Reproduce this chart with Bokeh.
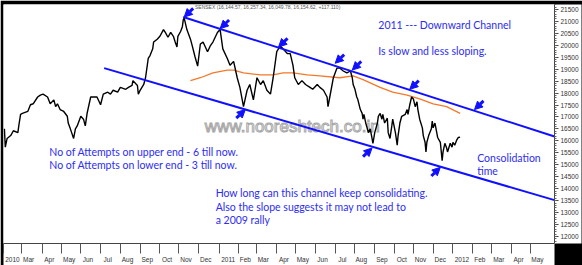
import numpy as np
import pandas as pd
from bokeh.plotting import figure
from bokeh.models import (Range1d, FixedTicker, SingleIntervalTicker, LinearAxis,
                          Arrow, NormalHead, ColumnDataSource, Label)
from bokeh.embed import file_html
from bokeh.resources import INLINE

# ---------------- data (x = trading sessions counted from 1 Feb 2010) ----------------
price_session = [1, 2, 4, 8, 11, 16, 17, 19, 21, 27, 30, 33, 38, 41, 44, 49, 52, 56, 58, 60,
                 63, 67, 71, 72, 74, 78, 80, 82, 86, 89, 91, 93, 97, 99, 104, 108, 111, 116, 119, 122,
                 127, 130, 136, 139, 143, 144, 149, 150, 152, 156, 158, 160, 161, 163, 166, 167, 171, 174, 178, 180,
                 183, 186, 189, 191, 193, 194, 197, 199, 200, 201, 202, 204, 208, 210, 213, 216, 219, 222, 227, 230,
                 233, 238, 241, 244, 249, 252, 256, 260, 263, 267, 271, 274, 278, 282, 286, 289, 293, 297, 300, 304,
                 308, 311, 316, 319, 322, 324, 328, 332, 336, 341, 344, 349, 352, 356, 360, 361, 363, 367, 371,
                 374, 378, 382, 386, 388, 389, 391, 393, 394, 397, 399, 400, 401, 403, 406, 408, 410, 411, 413,
                 416, 417, 419, 421, 422, 424, 427, 428, 430, 432, 433, 436, 438, 439, 441, 443, 447, 449, 450,
                 452, 454, 456, 458, 460, 461, 463, 466, 467, 469, 470, 471, 473, 476, 477, 478, 480, 482, 483,
                 486, 488, 489, 491, 493, 494, 497, 499, 500, 502, 504, 506, 508]
price_close = [16504, 15738, 16101, 16222, 16423, 16343, 16625, 17109, 17149, 17230, 17512, 17552, 17835, 17915, 17956, 17835, 17552, 17714, 17431, 17552,
               17310, 17230, 17028, 16746, 16544, 16101, 16504, 16625, 17028, 16907, 16625, 17149, 17835, 17835, 17835, 17512, 17956, 18036, 17956, 18117,
               18036, 18238, 18157, 18238, 18318, 18520, 18318, 17956, 18117, 18359, 18641, 19165, 19447, 19568, 19850, 20133, 20254, 20375, 20657, 20536,
               20334, 20536, 20375, 20133, 19931, 20375, 20576, 20778, 21060, 21141, 20980, 20657, 20254, 19972, 19528, 19125, 20052, 20133, 19730, 19972,
               20133, 20536, 20657, 19850, 19447, 19165, 19326, 18641, 18238, 17431, 18117, 18359, 17714, 18641, 18359, 18520, 18117, 17956, 18641, 19730,
               19972, 19850, 19648, 19648, 19165, 18641, 18359, 18520, 18359, 18238, 18157, 18359, 18238, 18117, 17835, 17431, 17835, 18641, 19044,
               19050, 18923, 18843, 18923, 18641, 18359, 18157, 17835, 17754, 17310, 17149, 16907, 17109, 16746, 16343, 16504, 16101, 15899, 16343,
               16746, 17028, 17149, 16907, 17109, 16746, 16948, 16343, 16101, 16625, 16907, 16343, 15819, 16222, 16746, 17028, 17109, 17310, 17109,
               17512, 17835, 17754, 17431, 17633, 17310, 16907, 16544, 16222, 15940, 15536, 15940, 16222, 16504, 16827, 16544, 16746, 16343, 16141,
               15940, 15173, 15536, 15899, 15698, 15536, 15899, 15738, 15940, 15819, 16020, 16141, 16155]

ma_session = [208, 219, 233, 249, 256, 267, 286, 300, 311, 322, 338, 352, 374, 389, 400,
              419, 433, 449, 463, 478, 493, 508]
ma_value = [18520, 18641, 18843, 18963, 18963, 18843, 18762, 18762, 18843, 18843, 18762, 18722, 18641, 18722, 18560,
            18238, 18036, 17915, 17754, 17552, 17431, 17149]

upper_channel_session = [200, 613]
upper_channel_value = [21181, 16181]
lower_channel_session = [112, 613]
lower_channel_value = [19044, 13520]

upper_touch_session = [201, 241, 306, 369, 388, 452, 524]
upper_touch_value = [21181, 20697, 19931, 19246, 18964, 18157, 17310]
lower_touch_session = [269, 410, 486]
lower_touch_value = [17310, 15698, 14891]

month_start = pd.date_range("2010-02-01", "2012-05-01", freq="MS")
month_labels = ["2010", "Mar", "Apr", "May", "Jun", "Jul", "Aug", "Sep", "Oct", "Nov", "Dec",
                "2011", "Feb", "Mar", "Apr", "May", "Jun", "Jul", "Aug", "Sep", "Oct", "Nov", "Dec",
                "2012", "Feb", "Mar", "Apr", "May"]

BLUE = "#1010ff"
TXT = "#2d2df5"

p = figure(width=582, height=265, output_backend="svg", toolbar_location=None,
           x_range=Range1d(0, 613), y_range=Range1d(11706, 21705),
           x_axis_type=None, y_axis_type=None,
           min_border_left=3, min_border_top=4, min_border_right=28, min_border_bottom=13,
           background_fill_color="white", border_fill_color="white", outline_line_color=None)

# ---- right price axis
yaxis = LinearAxis(ticker=SingleIntervalTicker(interval=500, num_minor_ticks=5),
                   axis_line_color="#444444", major_tick_out=4, major_tick_in=0,
                   minor_tick_out=2, minor_tick_in=0, major_tick_line_color="#444444",
                   minor_tick_line_color="#666666", major_label_standoff=2,
                   major_label_text_font="Liberation Sans",
                   major_label_text_font_size="6.5px", major_label_text_color="#333333")
p.add_layout(yaxis, "right")

# ---- bottom month axis (labels sit to the right of each month boundary)
month_session = np.busday_count(np.datetime64("2010-02-01"),
                                month_start.values.astype("datetime64[D]"))
label_pos = [int(round(s + (1.5 + 1.8 * len(l)) / 0.9)) for s, l in zip(month_session, month_labels)]
xaxis = LinearAxis(ticker=FixedTicker(ticks=label_pos, minor_ticks=[int(s) for s in month_session]),
                   major_label_overrides={k: l for k, l in zip(label_pos, month_labels)},
                   axis_line_color="#444444", major_tick_line_color=None,
                   major_tick_out=0, major_tick_in=0,
                   minor_tick_out=10, minor_tick_in=0, minor_tick_line_color="#555555",
                   major_label_standoff=2, major_label_text_font="Liberation Sans",
                   major_label_text_font_size="6.5px", major_label_text_color="#333333")
p.add_layout(xaxis, "below")

try:
    yaxis.background_fill_color = "white"
    xaxis.background_fill_color = "white"
    p.border_fill_color = "black"
except Exception:
    p.border_fill_color = "white"

# ---- watermark (outlined grey letters)
wm = Label(x=224, y=16585, text="www.nooreshtech.co.in", text_font="Liberation Sans",
           text_font_size="17px", text_color="#e4e4e4", text_baseline="middle", level="underlay")
try:
    wm.text_color = "white"
    wm.text_outline_color = "#a8a8a8"
except Exception:
    wm.text_color = "#d6d6d6"
p.add_layout(wm)

# ---- series
p.line(ma_session, ma_value, line_color="#f5782a", line_width=1.3)
p.line(price_session, price_close, line_color="black", line_width=1.4)
p.line(upper_channel_session, upper_channel_value, line_color=BLUE, line_width=2)
p.line(lower_channel_session, lower_channel_value, line_color=BLUE, line_width=2)

# ---- arrows at the channel touches
us = np.array(upper_touch_session, float)
uv = np.array(upper_touch_value, float)
ls = np.array(lower_touch_session, float)
lv = np.array(lower_touch_value, float)
arrow_src = ColumnDataSource(dict(
    x_start=np.concatenate([us + 10, ls - 10]),
    y_start=np.concatenate([uv + 360, lv - 360]),
    x_end=np.concatenate([us, ls]),
    y_end=np.concatenate([uv, lv])))
p.add_layout(Arrow(end=NormalHead(size=8, fill_color=BLUE, line_color=BLUE, line_width=1),
                   x_start="x_start", y_start="y_start", x_end="x_end", y_end="y_end",
                   line_color=BLUE, line_width=3, source=arrow_src))

# ---- texts
def note(x, y, t, size="10.5px", color=TXT, font="Lato"):
    p.add_layout(Label(x=x, y=y, text=t, text_font=font, text_font_size=size,
                       text_color=color, text_baseline="middle"))

note(213, 21584, "SENSEX (16,144.57, 16,257.34, 16,049.78, 16,154.62, +117.110)",
     size="5px", color="#555555", font="Liberation Sans")
note(417, 20859, "2011 --- Downward Channel")
note(417, 19770, "Is slow and less sloping.")
note(51, 15536, "No of Attempts on upper end - 6 till now.")
note(51, 14972, "No of Attempts on lower end - 3 till now.")
note(236, 13803, "How long can this channel keep consolidating.")
note(236, 13238, "Also the slope suggests it may not lead to")
note(236, 12674, "a 2009 rally")
note(527, 15294, "Consolidation")
note(527, 14730, "time")

open("out.html", "w").write(file_html(p, INLINE))
